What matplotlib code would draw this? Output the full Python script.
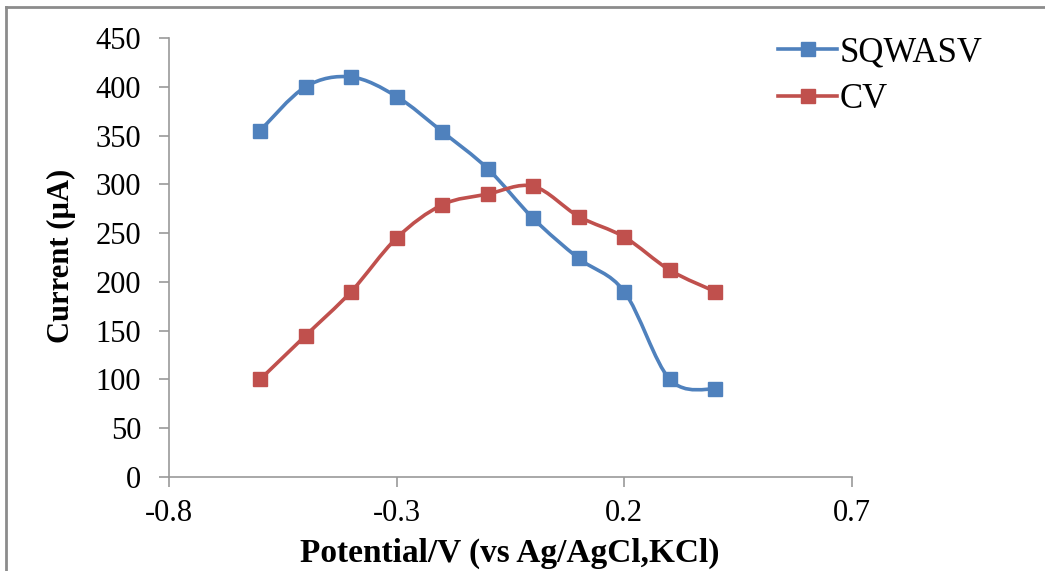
import numpy as np
import matplotlib
matplotlib.use("Agg")
import matplotlib.pyplot as plt
from matplotlib.path import Path
from matplotlib.patches import PathPatch
from matplotlib.lines import Line2D

potential = [-0.6, -0.5, -0.4, -0.3, -0.2, -0.1, 0.0, 0.1, 0.2, 0.3, 0.4]
sqwasv = [355, 400, 410, 390, 354, 316, 265, 224, 190, 100, 90]
cv = [100, 145, 190, 245, 279, 290, 298, 267, 246, 212, 190]

blue = "#4F81BD"
red = "#C0504D"

plt.rcParams['font.family'] = ['Liberation Serif', 'DejaVu Serif']


def smooth_path(x, y):
    # Excel-style smoothing: cubic bezier segments with catmull-rom control points
    x = np.asarray(x, float)
    y = np.asarray(y, float)
    verts = [(x[0], y[0])]
    codes = [Path.MOVETO]
    n = len(x)
    for i in range(n - 1):
        p0 = np.array([x[max(i - 1, 0)], y[max(i - 1, 0)]])
        p1 = np.array([x[i], y[i]])
        p2 = np.array([x[i + 1], y[i + 1]])
        p3 = np.array([x[min(i + 2, n - 1)], y[min(i + 2, n - 1)]])
        c1 = p1 + (p2 - p0) / 6.0
        c2 = p2 - (p3 - p1) / 6.0
        verts += [tuple(c1), tuple(c2), tuple(p2)]
        codes += [Path.CURVE4] * 3
    return Path(verts, codes)


fig = plt.figure(figsize=(10.45, 5.71), dpi=100)
ax = fig.add_axes([169 / 1045, 1 - 477 / 571, (852 - 169) / 1045, (477 - 38) / 571])

for ys, col, name in [(sqwasv, blue, "SQWASV"), (cv, red, "CV")]:
    ax.add_patch(PathPatch(smooth_path(potential, ys), facecolor="none",
                           edgecolor=col, lw=2.6, zorder=2))
    ax.plot(potential, ys, linestyle="none", marker="s", ms=10, color=col,
            zorder=3, label=name)

ax.set_xlim(-0.8, 0.7)
ax.set_ylim(0, 450)
ax.set_xticks([-0.8, -0.3, 0.2, 0.7])
ax.set_xticklabels(["-0.8", "-0.3", "0.2", "0.7"])
ax.set_yticks(range(0, 451, 50))
for s in ["top", "right"]:
    ax.spines[s].set_visible(False)
for s in ["left", "bottom"]:
    ax.spines[s].set_color("#9a9a9a")
    ax.spines[s].set_linewidth(1.2)
ax.tick_params(direction="out", length=7, width=1.2, color="#9a9a9a",
               labelsize=22)
ax.tick_params(axis="y", pad=13)
ax.tick_params(axis="x", pad=9)

fig.text(61 / 1045, 1 - 256 / 571, "Current (µA)", rotation=90, fontsize=22,
         fontweight="bold", ha="center", va="center")
fig.text(510 / 1045, 1 - 553 / 571, "Potential/V (vs Ag/AgCl,KCl)", fontsize=24,
         fontweight="bold", ha="center", va="center")

handles = [Line2D([], [], color=blue, lw=2.6, marker="s", ms=10),
           Line2D([], [], color=red, lw=2.6, marker="s", ms=10)]
fig.legend(handles, ["SQWASV", "CV"], loc="upper left",
           bbox_to_anchor=(747 / 1045, 1 - 5 / 571), frameon=False,
           fontsize=25, handlelength=1.7, handletextpad=0.06, labelspacing=0.4)

# grey frame around the chart area (left and top edges visible)
fig.add_artist(Line2D([6 / 1045, 6 / 1045], [0, 1 - 7 / 571],
                      transform=fig.transFigure, color="#8c8c8c", lw=2))
fig.add_artist(Line2D([6 / 1045, 1], [1 - 7 / 571, 1 - 7 / 571],
                      transform=fig.transFigure, color="#8c8c8c", lw=2))

fig.savefig("out.png", dpi=100)
